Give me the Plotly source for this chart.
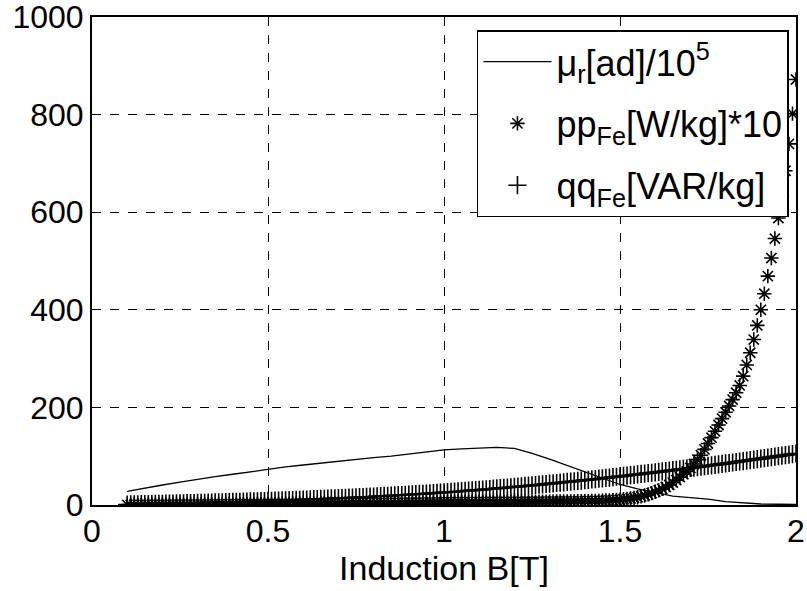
import numpy as np
import plotly.graph_objects as go

# Induction grid for measured loss points (0.10 .. 2.00 T, 0.01 T step)
B_pts = [round(0.10 + 0.01 * i, 2) for i in range(191)]

# pp_Fe [W/kg]*10
pp_fe = [
    0.2, 0.2, 0.2, 0.3, 0.3, 0.3, 0.4, 0.4, 0.4, 0.5,
    0.5, 0.6, 0.6, 0.7, 0.7, 0.8, 0.8, 0.8, 0.9, 0.9,
    1.0, 1.0, 1.1, 1.1, 1.2, 1.2, 1.3, 1.3, 1.4, 1.4,
    1.5, 1.5, 1.6, 1.6, 1.7, 1.8, 1.8, 1.9, 1.9, 2.0,
    2.0, 2.1, 2.2, 2.2, 2.3, 2.4, 2.4, 2.5, 2.5, 2.6,
    2.7, 2.7, 2.8, 2.9, 2.9, 3.0, 3.1, 3.1, 3.2, 3.3,
    3.3, 3.4, 3.5, 3.5, 3.6, 3.7, 3.7, 3.8, 3.9, 3.9,
    4.0, 4.1, 4.1, 4.2, 4.3, 4.3, 4.4, 4.5, 4.6, 4.6,
    4.7, 4.8, 4.8, 4.9, 5.0, 5.0, 5.1, 5.2, 5.3, 5.4,
    5.5, 5.6, 5.6, 5.7, 5.7, 5.8, 5.8, 5.9, 5.9, 6.0,
    6.0, 6.1, 6.1, 6.2, 6.2, 6.3, 6.3, 6.4, 6.4, 6.5,
    6.5, 6.6, 6.6, 6.7, 6.7, 6.8, 6.8, 6.9, 6.9, 7.0,
    7.0, 7.1, 7.1, 7.2, 7.3, 7.3, 7.4, 7.5, 7.6, 7.7,
    7.8, 7.9, 8.1, 8.3, 8.5, 8.8, 9.1, 9.5, 10.0, 10.5,
    11.0, 11.8, 12.6, 13.6, 14.7, 16.0, 17.6, 19.5, 21.8, 24.3,
    27, 30, 33, 37, 41, 46, 51, 57, 63, 69,
    76, 84, 93, 102, 114, 126, 138, 151, 164, 177,
    190, 203, 216, 230, 245, 264, 287, 312, 339, 368,
    400, 433, 469, 506, 546, 588, 634, 685, 740, 802,
    872,
]

# qq_Fe [VAR/kg]
qq_fe = [
    1.0, 1.1, 1.3, 1.4, 1.6, 1.7, 1.9, 2.0, 2.2, 2.3,
    2.5, 2.7, 2.8, 3.0, 3.2, 3.3, 3.5, 3.7, 3.9, 4.0,
    4.2, 4.4, 4.6, 4.8, 5.0, 5.2, 5.4, 5.6, 5.8, 6.0,
    6.2, 6.4, 6.6, 6.8, 7.0, 7.3, 7.5, 7.7, 7.9, 8.2,
    8.4, 8.7, 8.9, 9.2, 9.4, 9.7, 9.9, 10.2, 10.5, 10.8,
    11.0, 11.3, 11.6, 11.9, 12.2, 12.5, 12.8, 13.1, 13.4, 13.7,
    14.0, 14.3, 14.7, 15.0, 15.3, 15.7, 16.0, 16.3, 16.7, 17.0,
    17.4, 17.8, 18.1, 18.5, 18.9, 19.3, 19.7, 20.1, 20.5, 20.9,
    21.3, 21.7, 22.1, 22.6, 23.0, 23.4, 23.9, 24.3, 24.8, 25.3,
    25.8, 26.3, 26.8, 27.3, 27.8, 28.3, 28.8, 29.4, 29.9, 30.5,
    31.0, 31.6, 32.2, 32.8, 33.4, 34.0, 34.6, 35.2, 35.8, 36.4,
    37.0, 37.7, 38.3, 39.0, 39.6, 40.3, 41.0, 41.6, 42.3, 43.0,
    43.7, 44.4, 45.1, 45.8, 46.5, 47.2, 47.9, 48.7, 49.4, 50.1,
    50.9, 51.6, 52.4, 53.2, 53.9, 54.7, 55.5, 56.3, 57.1, 57.9,
    58.7, 59.5, 60.3, 61.1, 61.9, 62.8, 63.6, 64.4, 65.3, 66.1,
    67.0, 67.8, 68.7, 69.6, 70.5, 71.3, 72.2, 73.1, 74.0, 74.9,
    75.8, 76.7, 77.7, 78.6, 79.5, 80.4, 81.4, 82.3, 83.3, 84.2,
    85.2, 86.1, 87.1, 88.1, 89.1, 90.1, 91.1, 92.1, 93.1, 94.1,
    95.1, 96.1, 97.1, 98.2, 99.2, 100.2, 101.3, 102.3, 103.4, 104.4,
    105.5,
]

# mu_r [ad]/10^5 curve
B_mu = [0.10, 0.15, 0.20, 0.25, 0.30, 0.35, 0.40, 0.45, 0.50, 0.55,
        0.60, 0.65, 0.70, 0.75, 0.80, 0.85, 0.90, 0.95, 1.00, 1.05,
        1.10, 1.15, 1.20, 1.25, 1.30, 1.35, 1.40, 1.45, 1.50, 1.55,
        1.60, 1.65, 1.70, 1.75, 1.80, 1.85, 1.90, 1.95, 2.00]
mu_r = [28, 35, 41, 47, 53, 58, 63, 68, 74, 78,
        82, 86, 90, 93, 97, 100, 104, 108, 113, 115,
        117, 118, 116, 106, 94, 81, 68, 54, 42, 33,
        25, 18, 15, 12, 7, 4, 2, 1.5, 1]

x_ticks = [0, 0.5, 1, 1.5, 2]
x_labels = ["0", "0.5", "1", "1.5", "2"]
y_ticks = [0, 200, 400, 600, 800, 1000]
y_labels = ["0", "200", "400", "600", "800", "1000"]

FONT = "Liberation Sans, Arial, sans-serif"

fig = go.Figure()
fig.add_trace(go.Scatter(
    x=B_mu, y=mu_r, mode="lines",
    line=dict(color="black", width=1.3),
    name="μ<sub>r</sub>[ad]/10<sup>5</sup>", legendgroup="a",
))
fig.add_trace(go.Scatter(
    x=B_pts, y=pp_fe, mode="markers",
    marker=dict(symbol="asterisk-open", size=12, color="black",
                line=dict(color="black", width=1.6)),
    name="pp<sub>Fe</sub>[W/kg]*10", legendgroup="b",
))
fig.add_trace(go.Scatter(
    x=B_pts, y=qq_fe, mode="markers",
    marker=dict(symbol="cross-thin-open", size=13, color="black",
                line=dict(color="black", width=1.6)),
    name="qq<sub>Fe</sub>[VAR/kg]", legendgroup="c",
))

axis_common = dict(
    showline=True, linecolor="black", linewidth=2, mirror="ticks",
    ticks="inside", ticklen=5, tickcolor="black", tickwidth=1,
    showgrid=True, gridcolor="black", gridwidth=1, griddash="dash",
    zeroline=False, automargin=False, ticklabeloverflow="allow",
    tickfont=dict(family=FONT, size=32, color="black"),
)

fig.update_layout(
    width=807, height=591,
    margin=dict(l=92, r=11, t=17, b=86),
    paper_bgcolor="white", plot_bgcolor="white",
    font=dict(family=FONT, size=32, color="black"),
    xaxis=dict(range=[0, 2], tickmode="array", tickvals=x_ticks, ticktext=x_labels,
               ticklabelstandoff=-3,
               title=dict(text="Induction B[T]", font=dict(family=FONT, size=34), standoff=2),
               **axis_common),
    yaxis=dict(range=[0, 1000], tickmode="array", tickvals=y_ticks, ticktext=y_labels,
               ticklabelstandoff=0,
               **axis_common),
    legend=dict(x=0.990, y=0.973, xanchor="right", yanchor="top",
                bgcolor="white", bordercolor="black", borderwidth=1.5,
                font=dict(family=FONT, size=36, color="black"),
                itemwidth=68, tracegroupgap=12),
    showlegend=True,
)

fig.write_html("out.html", config={"displayModeBar": False},
               post_script="document.body.style.margin='0';document.body.style.overflow='hidden';")
